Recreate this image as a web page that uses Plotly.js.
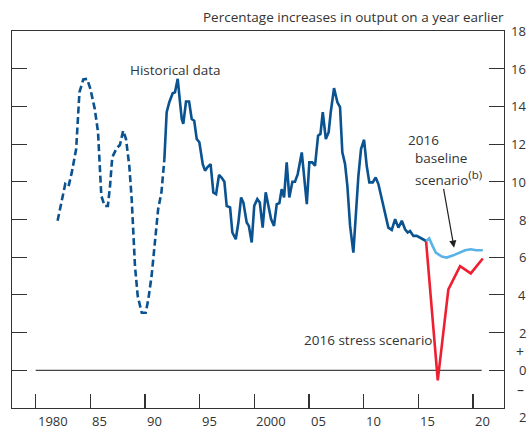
<!DOCTYPE html>
<html>
<head>
<meta charset="utf-8">
<script src="https://cdn.plot.ly/plotly-3.0.1.min.js"></script>
<style>html,body{margin:0;padding:0;background:#fff;}#chart{width:528px;height:429px;}</style>
</head>
<body>
<div id="chart"></div>
<script>
// Historical data, older estimates (dashed)
var histOldYears = [1982.0,1982.4,1982.7,1983.0,1983.3,1983.7,1984.0,1984.35,1984.7,1985.0,1985.4,1985.7,1985.9,1986.0,1986.3,1986.6,1986.8,1987.0,1987.4,1987.7,1988.0,1988.26,1988.56,1988.78,1988.93,1989.08,1989.33,1989.7,1990.06,1990.3,1990.6,1990.9,1991.2,1991.5,1991.77];
var histOldValues = [7.93,9.08,9.88,9.75,10.5,11.74,14.75,15.43,15.46,14.93,13.87,12.63,10.68,9.26,8.72,8.72,9.79,11.3,11.78,11.95,12.71,12.27,10.85,9.08,7.31,5.53,3.94,3.05,3.05,3.76,5.0,6.6,8.55,9.44,11.2];

// Historical data (solid)
var histYears = [1991.77,1991.98,1992.22,1992.53,1992.74,1992.99,1993.2,1993.36,1993.5,1993.75,1994.03,1994.27,1994.5,1994.73,1994.97,1995.28,1995.49,1995.7,1996.0,1996.25,1996.5,1996.77,1997.0,1997.26,1997.47,1997.78,1997.99,1998.3,1998.54,1998.79,1999.0,1999.3,1999.5,1999.76,1999.99,2000.27,2000.5,2000.76,2001.04,2001.28,2001.53,2001.8,2002.05,2002.29,2002.5,2002.72,2002.96,2003.2,2003.48,2003.72,2003.97,2004.34,2004.57,2004.8,2005.03,2005.3,2005.55,2005.83,2006.05,2006.26,2006.54,2006.8,2006.99,2007.29,2007.6,2007.84,2008.05,2008.3,2008.51,2008.76,2009.06,2009.3,2009.52,2009.76,2010.04,2010.28,2010.52,2010.83,2011.1,2011.35,2011.66,2011.96,2012.26,2012.57,2012.88,2013.18,2013.49,2013.79,2014.03,2014.25,2014.55,2014.86,2015.16,2015.46,2015.71];
var histValues = [11.2,13.69,14.22,14.7,14.75,15.46,14.22,13.33,13.07,14.26,14.26,13.33,13.24,12.27,12.1,10.94,10.59,10.77,10.94,9.44,9.35,10.36,10.23,10.0,8.72,8.64,7.31,6.95,7.84,9.17,8.9,7.84,7.66,6.78,8.72,9.08,8.9,7.57,9.44,8.72,8.02,7.66,8.81,8.87,9.61,9.17,11.03,9.17,10.0,10.0,10.41,11.56,10.23,8.81,11.03,11.03,10.85,12.45,12.54,13.69,12.27,12.63,13.69,14.97,14.22,13.96,11.56,10.94,9.79,7.66,6.24,8.37,10.32,11.74,12.23,10.85,9.97,9.97,10.23,9.88,9.08,8.37,7.57,7.45,8.02,7.57,7.93,7.48,7.31,7.39,7.13,7.13,7.04,6.95,6.86];

// 2016 baseline scenario
var baseYears = [2015.71,2016.0,2016.3,2016.6,2017.15,2017.6,2018.2,2018.76,2019.28,2019.8,2020.29,2020.9];
var baseValues = [6.86,7.0,6.6,6.24,6.03,5.98,6.1,6.24,6.37,6.42,6.37,6.37];

// 2016 stress scenario
var stressYears = [2015.71,2016.78,2017.75,2018.82,2019.8,2020.9];
var stressValues = [6.86,-0.53,4.29,5.53,5.14,5.93];

// Axis ticks and labels
var xTickVals = [1980,1985,1990,1995,2000,2005,2010,2015,2020];
var xTickText = ['1980','85','90','95','2000','05','10','15','20'];
var yTickVals = [18,16,14,12,10,8,6,4,2,0,-2];
var yTickText = ['18','16','14','12','10','8','6','4','2','0','2'];

var FONT = 'Open Sans, Noto Sans, sans-serif';
var TXT = '#333333';
var DARK = '#0a5290';
var LIGHT = '#5ab3e6';
var RED = '#ee1f30';

var traces = [
  {x: histOldYears, y: histOldValues, mode: 'lines', line: {color: DARK, width: 2.6, dash: '7px,3.5px'}, hoverinfo: 'skip'},
  {x: histYears, y: histValues, mode: 'lines', line: {color: DARK, width: 2.6}, hoverinfo: 'skip'},
  {x: stressYears, y: stressValues, mode: 'lines', line: {color: RED, width: 2.6}, hoverinfo: 'skip'},
  {x: baseYears, y: baseValues, mode: 'lines', line: {color: LIGHT, width: 2.6}, hoverinfo: 'skip'}
];

var ann = [];
xTickVals.forEach(function (v, i) {
  ann.push({x: v, xref: 'x', y: 0, yref: 'paper', text: xTickText[i], showarrow: false,
    xanchor: 'left', yanchor: 'middle', xshift: 0, yshift: -13,
    font: {family: FONT, size: 13, color: TXT}});
});
yTickVals.forEach(function (v, i) {
  ann.push({x: 1, xref: 'paper', y: v, yref: 'y', text: yTickText[i], showarrow: false,
    xanchor: 'right', yanchor: 'middle', xshift: 24, yshift: (v === -2 ? -9 : 0),
    font: {family: FONT, size: 13, color: TXT}});
});
ann.push({x: 1, xref: 'paper', y: 1, yref: 'y', text: '+', showarrow: false,
  xanchor: 'right', yanchor: 'middle', xshift: 22, font: {family: FONT, size: 14, color: TXT}});
ann.push({x: 1, xref: 'paper', y: -1, yref: 'y', text: '–', showarrow: false,
  xanchor: 'right', yanchor: 'middle', xshift: 22, font: {family: FONT, size: 14, color: TXT}});
ann.push({x: 1, xref: 'paper', y: 1, yref: 'paper', text: 'Percentage increases in output on a year earlier',
  showarrow: false, xanchor: 'right', yanchor: 'middle', xshift: 2, yshift: 14,
  font: {family: FONT, size: 13.5, color: TXT}});
ann.push({x: 1988.42, y: 15.95, text: 'Historical data', showarrow: false, xanchor: 'left', yanchor: 'middle',
  font: {family: FONT, size: 13.5, color: TXT}});
ann.push({x: 2013.88, y: 12.24, text: '2016', showarrow: false, xanchor: 'left', yanchor: 'middle',
  font: {family: FONT, size: 13.5, color: TXT}});
ann.push({x: 2014.52, y: 11.25, text: 'baseline', showarrow: false, xanchor: 'left', yanchor: 'middle',
  font: {family: FONT, size: 13.5, color: TXT}});
ann.push({x: 2014.52, y: 10.2, text: 'scenario<sup><span style="font-size:11.5px">(b)</span></sup>', showarrow: false, xanchor: 'left', yanchor: 'middle',
  font: {family: FONT, size: 13.5, color: TXT}});
ann.push({x: 2004.4, y: 1.6, text: '2016 stress scenario', showarrow: false, xanchor: 'left', yanchor: 'middle',
  font: {family: FONT, size: 13.5, color: TXT}});
ann.push({x: 2018.27, y: 6.5, ax: 2017.29, ay: 9.7, axref: 'x', ayref: 'y', xref: 'x', yref: 'y',
  text: '', showarrow: true, arrowhead: 2, arrowsize: 1.2, arrowwidth: 1.2, arrowcolor: '#222'});

var layout = {
  width: 528, height: 429,
  margin: {l: 12, r: 24, t: 31, b: 21, pad: 0},
  paper_bgcolor: '#ffffff', plot_bgcolor: '#ffffff',
  showlegend: false,
  xaxis: {range: [1977.83, 2022.84], showgrid: false, zeroline: false, showline: true, mirror: true,
    linecolor: '#333', linewidth: 1.3, ticks: 'inside', ticklen: 14, tickwidth: 1.2, tickcolor: '#333',
    tickvals: xTickVals, showticklabels: false, fixedrange: true},
  yaxis: {range: [-2, 18], side: 'right', showgrid: false, zeroline: false, showline: true, mirror: 'ticks',
    linecolor: '#333', linewidth: 1.3, ticks: 'inside', ticklen: 15, tickwidth: 1.2, tickcolor: '#333',
    tickvals: yTickVals, showticklabels: false, fixedrange: true},
  shapes: [
    {type: 'line', xref: 'x', yref: 'y', x0: 1980, x1: 2020.8, y0: 0, y1: 0, line: {color: '#444', width: 1.2}, layer: 'below'}
  ],
  annotations: ann
};

Plotly.newPlot('chart', traces, layout, {staticPlot: true, displayModeBar: false});
</script>
</body>
</html>
